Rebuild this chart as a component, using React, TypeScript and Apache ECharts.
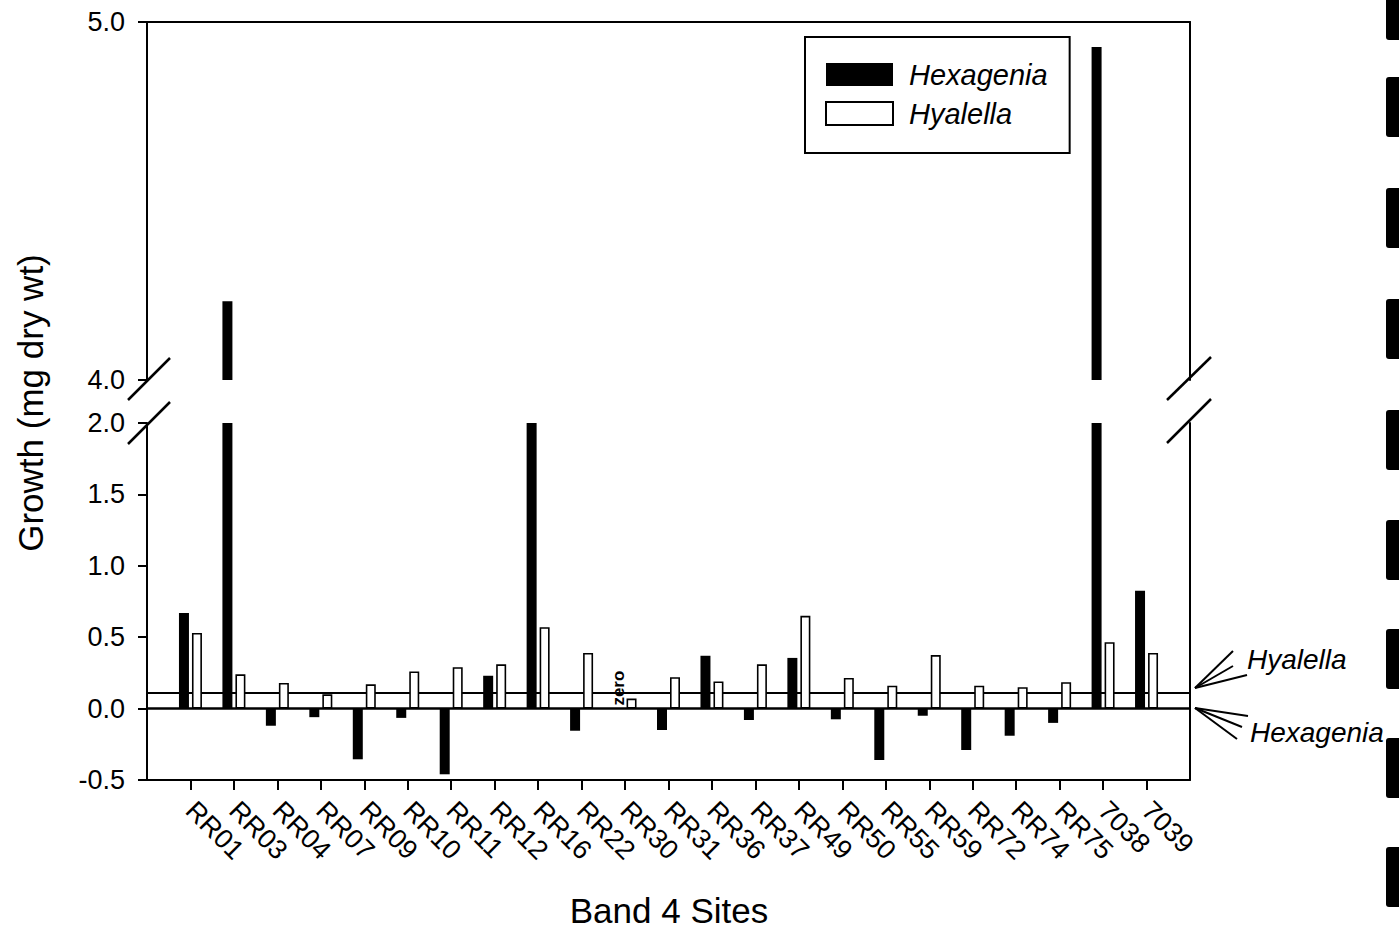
import React, { useEffect, useRef } from "react";
import * as echarts from "echarts";

// Band 4 sites along the x axis
const sites = [
  "RR01", "RR03", "RR04", "RR07", "RR09", "RR10", "RR11", "RR12", "RR16", "RR22", "RR30", "RR31",
  "RR36", "RR37", "RR49", "RR50", "RR55", "RR59", "RR72", "RR74", "RR75", "7038", "7039",
];

// Growth (mg dry wt) per site
const hexagenia = [
  0.67, 4.22, -0.12, -0.06, -0.355, -0.065, -0.46, 0.23, 2.3, -0.155, 0, -0.15,
  0.37, -0.08, 0.355, -0.075, -0.36, -0.05, -0.29, -0.19, -0.1, 4.93, 0.825,
];
const hyalella = [
  0.53, 0.24, 0.18, 0.1, 0.17, 0.26, 0.29, 0.31, 0.57, 0.39, 0.07, 0.22,
  0.19, 0.31, 0.65, 0.215, 0.16, 0.375, 0.16, 0.15, 0.185, 0.465, 0.39,
];

// Reference lines for each species
const hexageniaRef = 0;
const hyalellaRef = 0.11;

// Axis ranges of the broken value axis
const upperRange = [4, 5];
const lowerRange = [-0.5, 2];
const upperTicks = 1;
const lowerTicks = 0.5;

// Site that gets the "zero" note
const zeroSite = "RR30";

const FONT = "'Liberation Sans', Arial, Helvetica, sans-serif";

export default function App() {
  const ref = useRef<HTMLDivElement>(null);

  useEffect(() => {
    if (!ref.current) return;
    const chart = echarts.init(ref.current, null, { renderer: "svg" });

    // one empty slot at each end so the frame extends past the first/last site
    const cats = ["", ...sites, ""];
    const pad = (arr: any[]) => [null, ...arr, null];

    const lowerHex = pad(
      hexagenia.map((v, i) =>
        sites[i] === zeroSite
          ? {
              value: v,
              label: {
                show: true,
                formatter: "zero",
                position: "top",
                rotate: 90,
                align: "left",
                verticalAlign: "middle",
                distance: 3,
                fontSize: 17,
                fontWeight: "bold",
                color: "#000",
                fontFamily: FONT,
              },
            }
          : v
      )
    );
    const lowerHya = pad(hyalella);
    const upperHex = pad(hexagenia.map((v) => (v > upperRange[0] ? v : null)));
    const upperHya = pad(hyalella.map((v) => (v > upperRange[0] ? v : null)));

    const axisLine = { show: true, onZero: false, lineStyle: { color: "#000", width: 2 } };
    const yLabel = {
      fontSize: 27,
      color: "#000",
      fontFamily: FONT,
      margin: 22,
      formatter: (v: number) => v.toFixed(1),
    };
    const yTick = { show: true, length: 9, inside: false, lineStyle: { color: "#000", width: 2 } };

    const hexStyle = { color: "#000" };
    const hyaStyle = { color: "#fff", borderColor: "#000", borderWidth: 1.6 };

    const option: any = {
      animation: false,
      backgroundColor: "#fff",
      textStyle: { fontFamily: FONT },
      grid: [
        { left: 147, top: 22, width: 1043, height: 358 },
        { left: 147, top: 423, width: 1043, height: 357 },
      ],
      xAxis: [
        {
          gridIndex: 0,
          type: "category",
          data: cats,
          boundaryGap: false,
          position: "top",
          axisLine,
          axisTick: { show: false },
          axisLabel: { show: false },
          splitLine: { show: false },
        },
        {
          gridIndex: 1,
          type: "category",
          data: cats,
          boundaryGap: false,
          position: "bottom",
          axisLine,
          axisTick: {
            show: true,
            length: 10,
            interval: (i: number) => i > 0 && i < cats.length - 1,
            lineStyle: { color: "#000", width: 2 },
          },
          axisLabel: {
            interval: 0,
            rotate: -45,
            fontSize: 27,
            color: "#000",
            fontFamily: FONT,
            margin: 26,
          },
          splitLine: { show: false },
        },
      ],
      yAxis: [
        {
          gridIndex: 0,
          type: "value",
          min: upperRange[0],
          max: upperRange[1],
          interval: upperTicks,
          axisLine,
          axisTick: yTick,
          axisLabel: yLabel,
          splitLine: { show: false },
        },
        {
          gridIndex: 1,
          type: "value",
          min: lowerRange[0],
          max: lowerRange[1],
          interval: lowerTicks,
          axisLine,
          axisTick: yTick,
          axisLabel: yLabel,
          splitLine: { show: false },
        },
        {
          gridIndex: 0,
          type: "value",
          position: "right",
          min: upperRange[0],
          max: upperRange[1],
          axisLine,
          axisTick: { show: false },
          axisLabel: { show: false },
          splitLine: { show: false },
        },
        {
          gridIndex: 1,
          type: "value",
          position: "right",
          min: lowerRange[0],
          max: lowerRange[1],
          axisLine,
          axisTick: { show: false },
          axisLabel: { show: false },
          splitLine: { show: false },
        },
      ],
      legend: {
        data: ["Hexagenia", "Hyalella"],
        orient: "vertical",
        left: 805,
        top: 37,
        padding: [23, 22, 25, 20],
        itemWidth: 67,
        itemHeight: 23,
        itemGap: 10,
        icon: "rect",
        borderColor: "#000",
        borderWidth: 2,
        backgroundColor: "#fff",
        selectedMode: false,
        textStyle: {
          fontSize: 29,
          fontStyle: "italic",
          color: "#000",
          fontFamily: FONT,
          padding: [0, 0, 0, 11],
        },
      },
      series: [
        {
          name: "Hexagenia",
          type: "bar",
          xAxisIndex: 0,
          yAxisIndex: 0,
          data: upperHex,
          barWidth: 10,
          barGap: "30%",
          clip: true,
          itemStyle: hexStyle,
          z: 2,
        },
        {
          name: "Hyalella",
          type: "bar",
          xAxisIndex: 0,
          yAxisIndex: 0,
          data: upperHya,
          barWidth: 10,
          barGap: "30%",
          clip: true,
          itemStyle: hyaStyle,
          z: 2,
        },
        {
          name: "Hexagenia",
          type: "bar",
          xAxisIndex: 1,
          yAxisIndex: 1,
          data: lowerHex,
          barWidth: 10,
          barGap: "30%",
          clip: true,
          itemStyle: hexStyle,
          z: 2,
          markLine: {
            silent: true,
            z: 1,
            symbol: "none",
            label: { show: false },
            lineStyle: { color: "#000", type: "solid", width: 2.5 },
            data: [{ yAxis: hexageniaRef }],
          },
        },
        {
          name: "Hyalella",
          type: "bar",
          xAxisIndex: 1,
          yAxisIndex: 1,
          data: lowerHya,
          barWidth: 10,
          barGap: "30%",
          clip: true,
          itemStyle: hyaStyle,
          z: 2,
          markLine: {
            silent: true,
            z: 1,
            symbol: "none",
            label: { show: false },
            lineStyle: { color: "#000", type: "solid", width: 2 },
            data: [{ yAxis: hyalellaRef }],
          },
        },
      ],
      graphic: [
        // axis titles
        {
          type: "text",
          x: 30,
          y: 403,
          rotation: Math.PI / 2,
          style: {
            text: "Growth (mg dry wt)",
            fontSize: 35,
            fontFamily: FONT,
            fill: "#000",
            align: "center",
            verticalAlign: "middle",
          },
        },
        {
          type: "text",
          x: 669,
          y: 910,
          style: {
            text: "Band 4 Sites",
            fontSize: 35,
            fontFamily: FONT,
            fill: "#000",
            align: "center",
            verticalAlign: "middle",
          },
        },
        // axis break marks
        ...[
          [128, 400, 170, 358],
          [128, 444, 170, 402],
          [1167, 400, 1211, 357],
          [1167, 443, 1211, 399],
        ].map(([x1, y1, x2, y2]) => ({
          type: "line",
          shape: { x1, y1, x2, y2 },
          style: { stroke: "#000", lineWidth: 2.5 },
        })),
        // callouts for the reference lines
        ...[
          [1195, 688, 1233, 651],
          [1195, 688, 1233, 666],
          [1195, 688, 1247, 675],
          [1195, 708, 1248, 716],
          [1195, 708, 1242, 727],
          [1195, 708, 1237, 739],
        ].map(([x1, y1, x2, y2]) => ({
          type: "line",
          shape: { x1, y1, x2, y2 },
          style: { stroke: "#000", lineWidth: 2 },
        })),
        {
          type: "text",
          x: 1247,
          y: 659,
          style: {
            text: "Hyalella",
            fontSize: 28,
            fontStyle: "italic",
            fontFamily: FONT,
            fill: "#000",
            align: "left",
            verticalAlign: "middle",
          },
        },
        {
          type: "text",
          x: 1250,
          y: 732,
          style: {
            text: "Hexagenia",
            fontSize: 28,
            fontStyle: "italic",
            fontFamily: FONT,
            fill: "#000",
            align: "left",
            verticalAlign: "middle",
          },
        },
        // punched binder marks along the right margin
        ...[-20, 77, 188, 299, 410, 520, 629, 738, 847].map((top) => ({
          type: "rect",
          shape: { x: 1386, y: top, width: 16, height: 60, r: 3 },
          style: { fill: "#000" },
        })),
      ],
    };

    chart.setOption(option);
    return () => chart.dispose();
  }, []);

  return (
    <div
      ref={ref}
      style={{ position: "fixed", left: 0, top: 0, width: 1399, height: 929, background: "#fff" }}
    />
  );
}
